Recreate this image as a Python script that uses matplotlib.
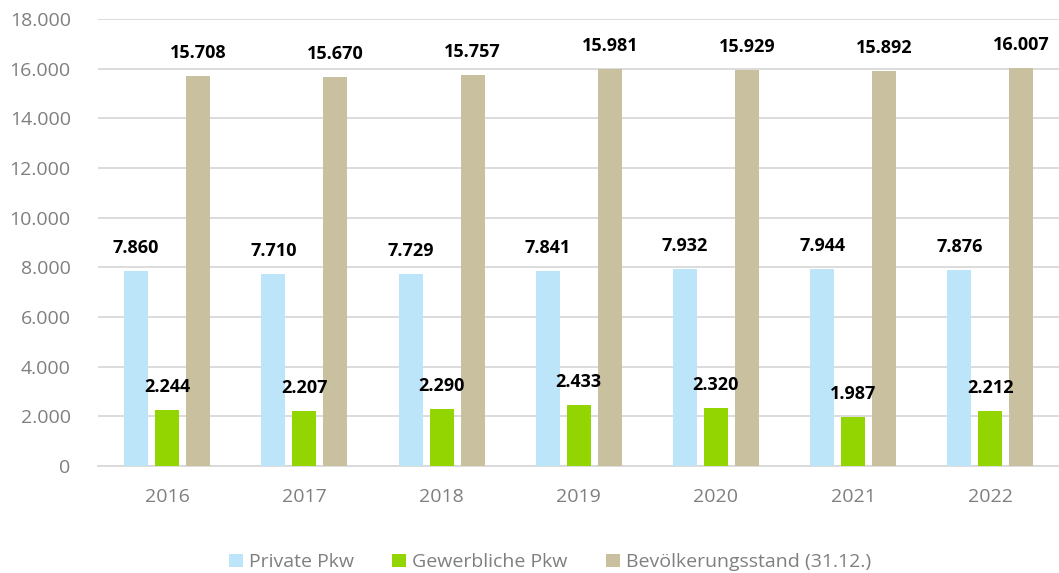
import matplotlib.pyplot as plt
import numpy as np
from matplotlib.ticker import FuncFormatter

# Daten
jahre = ['2016', '2017', '2018', '2019', '2020', '2021', '2022']
private_pkw = [7860, 7710, 7729, 7841, 7932, 7944, 7876]
gewerbliche_pkw = [2244, 2207, 2290, 2433, 2320, 1987, 2212]
bevoelkerung = [15708, 15670, 15757, 15981, 15929, 15892, 16007]

serien = [
    ('Private Pkw', private_pkw, '#BDE5FA'),
    ('Gewerbliche Pkw', gewerbliche_pkw, '#92D500'),
    ('Bevölkerungsstand (31.12.)', bevoelkerung, '#C9C09F'),
]

plt.rcParams['font.family'] = ['Open Sans', 'DejaVu Sans']

fig = plt.figure(figsize=(10.59, 5.73), dpi=100)
ax = fig.add_axes([0.093, 0.187, 0.907, 0.78])

x = np.arange(len(jahre))
breite = 0.175
abstand = 0.226

def tausender(v):
    return f'{v:,.0f}'.replace(',', '.')

for i, (name, werte, farbe) in enumerate(serien):
    pos = x + (i - 1) * abstand
    ax.bar(pos, werte, width=breite, color=farbe, label=name, zorder=3)
    for p, w in zip(pos, werte):
        ax.annotate(tausender(w), (p, w), xytext=(0, 23), textcoords='offset pixels',
                    ha='center', va='center', fontsize=13, fontweight='bold',
                    color='black', zorder=5)

ax.set_xlim(-0.5, len(jahre) - 0.5)
ax.set_ylim(0, 18000)
ax.set_yticks(range(0, 18001, 2000))
ax.yaxis.set_major_formatter(FuncFormatter(lambda v, p: tausender(v)))
ax.set_xticks(x)
ax.set_xticklabels(jahre)

ax.grid(axis='y', color='#D9D9D9', linewidth=1.3, zorder=0)
for s in ['top', 'right', 'left']:
    ax.spines[s].set_visible(False)
ax.spines['bottom'].set_color('#D9D9D9')
ax.spines['bottom'].set_linewidth(1.3)
ax.tick_params(axis='both', length=0, labelsize=14, labelcolor='#7F7F7F')
ax.tick_params(axis='x', pad=16)
ax.tick_params(axis='y', pad=20)

ax.legend(loc='lower center', bbox_to_anchor=(0.47, -0.275), ncol=3, frameon=False,
          fontsize=14, labelcolor='#7F7F7F', handlelength=0.7, handleheight=0.7,
          handletextpad=0.3, columnspacing=2.0)

plt.savefig('out.png', dpi=100)
